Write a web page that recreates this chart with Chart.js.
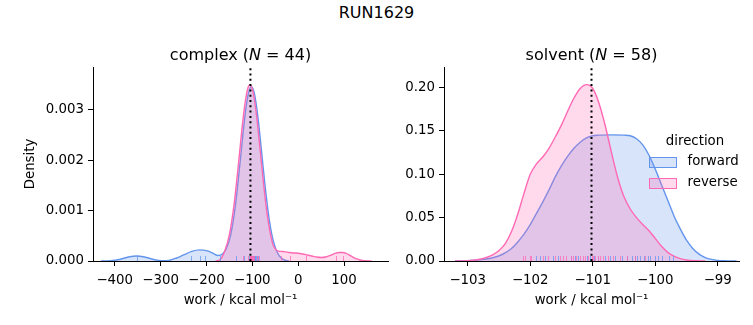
<!DOCTYPE html>
<html>
<head>
<meta charset="utf-8">
<script src="https://cdn.jsdelivr.net/npm/chart.js@4.4.0/dist/chart.umd.min.js"></script>
<style>
body { margin: 0; background: #fff; }
#wrap { position: relative; width: 753px; height: 325px; font-family: 'DejaVu Sans'; }
#sup { position: absolute; left: 0; top: 3px; width: 753px; text-align: center; font-size: 16px; line-height: 20px; color: #000; }
canvas { position: absolute; top: 0; }
</style>
</head>
<body>
<div id="wrap">
  <div id="sup">RUN1629</div>
  <canvas id="c1" width="390" height="325" style="left:0"></canvas>
  <canvas id="c2" width="363" height="325" style="left:390px"></canvas>
</div>
<script>
// density curves
const complexFwdX = [-430,-410,-390,-370,-352,-335,-315,-298,-282,-265,-250,-232,-215,-198,-185,-175,-165,-157,-147,-137,-127,-117,-112,-107,-102,-97,-92,-87,-82,-77,-72,-67,-62,-57,-52,-45,-38,-30,-20];
const complexFwdY = [0,0.000006,0.00003,0.00008,0.0001,0.00008,0.00003,0.000006,0.000012,0.00006,0.00012,0.00019,0.00022,0.0002,0.00015,0.00011,0.00014,0.00024,0.00052,0.00109,0.00192,0.0028,0.00315,0.00338,0.00346,0.00338,0.00315,0.0028,0.00237,0.00192,0.00148,0.00109,0.00076,0.00051,0.00033,0.00016,0.00007,0.00002,0];
const complexRevX = [-180,-170,-160,-150,-140,-130,-120,-115,-110,-105,-100,-95,-90,-85,-80,-75,-70,-65,-60,-55,-50,-45,-38,-30,-20,-10,0,10,20,30,40,50,60,70,80,90,97,105,115,125,135,145,160];
const complexRevY = [0,0.00003,0.0002,0.00052,0.0011,0.00194,0.00283,0.00318,0.00342,0.0035,0.00342,0.00318,0.00283,0.0024,0.00194,0.0015,0.0011,0.00077,0.00052,0.00033,0.00024,0.0002,0.00019,0.000185,0.00017,0.00016,0.000155,0.00014,0.00012,0.0001,0.00008,0.00007,0.00008,0.00011,0.00015,0.00017,0.00017,0.00015,0.0001,0.00005,0.00002,0.000005,0];

const solventFwdX = [-103.2,-103.0,-102.8,-102.6,-102.45,-102.3,-102.2,-102.1,-102.0,-101.9,-101.8,-101.7,-101.6,-101.5,-101.4,-101.3,-101.2,-101.1,-101.0,-100.9,-100.7,-100.5,-100.4,-100.3,-100.2,-100.1,-100.0,-99.9,-99.8,-99.7,-99.6,-99.5,-99.4,-99.3,-99.2,-99.1,-99.0,-98.85,-98.7];
const solventFwdY = [0,0.0004,0.0015,0.0038,0.0075,0.0145,0.022,0.031,0.042,0.055,0.068,0.082,0.097,0.11,0.121,0.13,0.137,0.142,0.1445,0.1452,0.1455,0.1452,0.1445,0.141,0.134,0.122,0.106,0.088,0.07,0.052,0.037,0.024,0.0145,0.008,0.004,0.0018,0.0007,0.0002,0];
const solventRevX = [-103.2,-103.0,-102.85,-102.7,-102.6,-102.5,-102.4,-102.3,-102.2,-102.1,-102.0,-101.9,-101.8,-101.7,-101.6,-101.5,-101.4,-101.3,-101.2,-101.1,-101.0,-100.9,-100.8,-100.7,-100.6,-100.5,-100.4,-100.3,-100.2,-100.1,-100.0,-99.9,-99.8,-99.7,-99.6,-99.5,-99.35,-99.2];
const solventRevY = [0,0.0004,0.0015,0.004,0.007,0.012,0.02,0.034,0.054,0.078,0.1,0.112,0.12,0.13,0.143,0.157,0.173,0.188,0.199,0.2035,0.199,0.182,0.156,0.125,0.096,0.074,0.06,0.05,0.042,0.035,0.026,0.017,0.01,0.0055,0.0028,0.0012,0.0003,0];

// individual work values (rug)
const complexFwdRug = [-351,-233,-215,-204,-171,-135,-118,-108,-104,-103,-102,-101,-100,-99,-98,-97,-96,-95,-94,-92,-90,-88];
const complexRevRug = [-120,-110,-106,-105,-104,-103.5,-103,-102.5,-102,-101.5,-101,-100,-99,-98,-97,-90,-85,-37,-18,18,83,98];
const solventFwdRug = [-101.9,-101.84,-101.77,-101.64,-101.55,-101.34,-101.29,-101.24,-101.1,-101.05,-100.98,-100.92,-100.81,-100.73,-100.64,-100.53,-100.45,-100.38,-100.33,-100.29,-100.24,-100.18,-100.12,-100.08,-100.0,-99.95,-99.89,-99.78,-99.71];
const solventRevRug = [-102.12,-102.09,-102.01,-101.98,-101.8,-101.72,-101.61,-101.53,-101.48,-101.42,-101.35,-101.32,-101.26,-101.21,-101.16,-101.13,-101.07,-101.02,-100.99,-100.96,-100.92,-100.89,-100.84,-100.76,-100.68,-100.57,-100.45,-100.32,-100.16];

const complexMark = -104;
const solventMark = -101.02;

const complexXTicks = [-400,-300,-200,-100,0,100];
const complexYTicks = [0,0.001,0.002,0.003];
const solventXTicks = [-103,-102,-101,-100,-99];
const solventYTicks = [0,0.05,0.1,0.15,0.2];

const BLUE = '#6495ED', PINK = '#FF69B4';
const BLUE_FILL = 'rgba(100,149,237,0.25)', PINK_FILL = 'rgba(255,105,180,0.25)';

Chart.defaults.font.family = 'DejaVu Sans';
Chart.defaults.font.size = 13.33;
Chart.defaults.color = '#000';

function pts(xs, ys) {
    return xs.map((x, i) => ({x: x, y: ys[i]}));
}
function minus(v) {
    return String(v).replace('-', '\u2212');
}

// rug ticks, dotted line, titles, legend
const extras = {
    id: 'extras',
    afterDatasetsDraw(chart, args, opts) {
        const {ctx, chartArea, scales} = chart;
        const x = scales.x;
        ctx.save();
        ctx.lineWidth = 1;
        for (const set of opts.rugs) {
            ctx.strokeStyle = set.color;
            for (const v of set.values) {
                const px = Math.round(x.getPixelForValue(v)) + 0.5;
                ctx.beginPath();
                ctx.moveTo(px, chartArea.bottom);
                ctx.lineTo(px, chartArea.bottom - 5);
                ctx.stroke();
            }
        }
        const lx = x.getPixelForValue(opts.mark);
        ctx.strokeStyle = '#000';
        ctx.lineWidth = 2;
        ctx.setLineDash([2, 3.3]);
        ctx.beginPath();
        ctx.moveTo(lx, chartArea.bottom);
        ctx.lineTo(lx, chartArea.top);
        ctx.stroke();
        ctx.restore();
    },
    afterDraw(chart, args, opts) {
        const {ctx, chartArea} = chart;
        const cx = (chartArea.left + chartArea.right) / 2;
        const y = 59.5;
        const a = opts.name + ' (', b = 'N', c = ' = ' + opts.n + ')';
        ctx.save();
        ctx.fillStyle = '#000';
        ctx.textBaseline = 'alphabetic';
        ctx.font = '16px "DejaVu Sans"';
        const wa = ctx.measureText(a).width, wc = ctx.measureText(c).width;
        ctx.font = 'italic 16px "DejaVu Sans"';
        const wb = ctx.measureText(b).width;
        let x0 = cx - (wa + wb + wc) / 2;
        ctx.font = '16px "DejaVu Sans"';
        ctx.fillText(a, x0, y);
        ctx.font = 'italic 16px "DejaVu Sans"';
        ctx.fillText(b, x0 + wa, y);
        ctx.font = '16px "DejaVu Sans"';
        ctx.fillText(c, x0 + wa + wb, y);

        if (opts.legend) {
            ctx.font = '13.33px "DejaVu Sans"';
            ctx.textBaseline = 'middle';
            ctx.textAlign = 'center';
            ctx.fillText('direction', 695 - 390, 142);
            ctx.textAlign = 'left';
            const rows = [['forward', BLUE, BLUE_FILL, 162], ['reverse', PINK, PINK_FILL, 183]];
            for (const r of rows) {
                ctx.fillStyle = r[2];
                ctx.fillRect(649.5 - 390, r[3] - 5, 27, 10);
                ctx.strokeStyle = r[1];
                ctx.lineWidth = 1;
                ctx.strokeRect(649.5 - 390, r[3] - 5 + 0.5, 27, 10);
                ctx.fillStyle = '#000';
                ctx.fillText(r[0], 687.5 - 390, r[3]);
            }
        }
        ctx.restore();
    }
};

function makeChart(id, cfg) {
    const ds = [
        {label: 'forward', data: pts(cfg.fx, cfg.fy), borderColor: BLUE, backgroundColor: BLUE_FILL, order: 1},
        {label: 'reverse', data: pts(cfg.rx, cfg.ry), borderColor: PINK, backgroundColor: PINK_FILL, order: 0}
    ];
    ds.forEach(d => {
        d.fill = 'origin';
        d.borderWidth = 1.4;
        d.pointRadius = 0;
        d.cubicInterpolationMode = 'monotone';
    });
    return new Chart(document.getElementById(id), {
        type: 'line',
        data: {datasets: ds},
        options: {
            responsive: false,
            animation: false,
            devicePixelRatio: 1,
            layout: {padding: {top: cfg.top, right: cfg.right, left: 0, bottom: 0}},
            plugins: {
                legend: {display: false},
                tooltip: {enabled: false},
                extras: {rugs: [{color: 'rgba(100,149,237,0.75)', values: cfg.fRug}, {color: 'rgba(255,105,180,0.75)', values: cfg.rRug}],
                         mark: cfg.mark, name: cfg.name, n: cfg.n, legend: cfg.legend}
            },
            scales: {
                x: {
                    type: 'linear',
                    min: cfg.xmin, max: cfg.xmax,
                    afterBuildTicks: ax => { ax.ticks = cfg.xticks.map(v => ({value: v})); },
                    afterFit: ax => { ax.height = 64; },
                    ticks: {callback: v => minus(v), padding: 7, maxRotation: 0, autoSkip: false},
                    grid: {drawOnChartArea: false, tickLength: 5, color: '#000', tickWidth: 1},
                    border: {color: '#000', width: 1},
                    title: {display: true, text: 'work / kcal mol\u207B\u00B9', padding: {bottom: 16}}
                },
                y: {
                    min: 0, max: cfg.ymax,
                    afterBuildTicks: ax => { ax.ticks = cfg.yticks.map(v => ({value: v})); },
                    afterFit: ax => { ax.width = cfg.yw; },
                    ticks: {callback: v => v.toFixed(cfg.dec), padding: 4, autoSkip: false},
                    grid: {drawOnChartArea: false, tickLength: 5, color: '#000', tickWidth: 1},
                    border: {color: '#000', width: 1},
                    title: {display: cfg.ytitle, text: 'Density', padding: {top: 23}}
                }
            }
        },
        plugins: [extras]
    });
}

makeChart('c1', {
    fx: complexFwdX, fy: complexFwdY, rx: complexRevX, ry: complexRevY,
    fRug: complexFwdRug, rRug: complexRevRug, mark: complexMark,
    xmin: -447.3, xmax: 195.9, ymax: 0.00385, xticks: complexXTicks, yticks: complexYTicks,
    dec: 3, yw: 93, top: 67, right: 2, ytitle: true, name: 'complex', n: '44', legend: false
});
makeChart('c2', {
    fx: solventFwdX, fy: solventFwdY, rx: solventRevX, ry: solventRevY,
    fRug: solventFwdRug, rRug: solventRevRug, mark: solventMark,
    xmin: -103.38, xmax: -98.66, ymax: 0.2238, xticks: solventXTicks, yticks: solventYTicks,
    dec: 2, yw: 54, top: 67, right: 14, ytitle: false, name: 'solvent', n: '58', legend: true
});
</script>
</body>
</html>
